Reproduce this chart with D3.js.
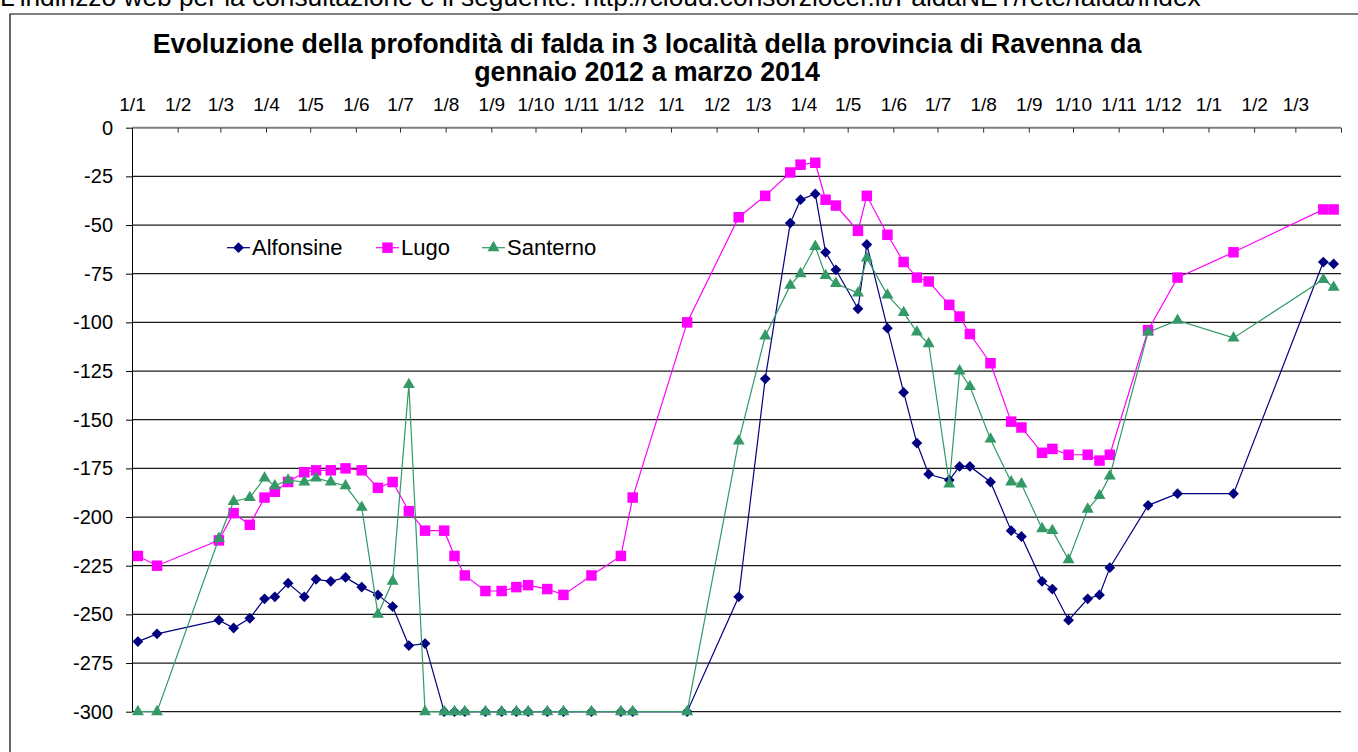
<!DOCTYPE html>
<html lang="it">
<head>
<meta charset="UTF-8">
<title>Evoluzione della profondità di falda</title>
<style>
    body { margin: 0; background: #fff; }
    svg { display: block; font-family: "Liberation Sans", Arial, sans-serif; }
    .grid line { stroke: #1a1a1a; stroke-width: 1.2px; }
    .grid line.zero { stroke: #808080; stroke-width: 2px; }
    .x-axis text { font-size: 19px; fill: #000; }
    .x-axis line { stroke: #333; }
    .y-axis text { font-size: 20px; fill: #000; }
    .y-axis line, .y-axis path { stroke: #000; }
    .title { font-size: 26.8px; font-weight: bold; text-anchor: middle; }
    .legend text { font-size: 22px; }
    .series path.line { fill: none; stroke-width: 1.2px; }
</style>
</head>
<body>
<svg id="chart" width="1358" height="752"></svg>
<script src="https://d3js.org/d3.v7.min.js"></script>
<script>
// date of each reading (shared by the three wells)
const dates = [
    "2012-01-05","2012-01-18","2012-02-29","2012-03-10","2012-03-21","2012-03-31","2012-04-07","2012-04-16",
    "2012-04-27","2012-05-05","2012-05-15","2012-05-25","2012-06-05","2012-06-16","2012-06-26","2012-07-07",
    "2012-07-18","2012-07-31","2012-08-07","2012-08-14","2012-08-28","2012-09-08","2012-09-18","2012-09-26",
    "2012-10-09","2012-10-20","2012-11-08","2012-11-28","2012-12-06","2013-01-12",
    "2013-02-16","2013-03-06","2013-03-23","2013-03-30","2013-04-09","2013-04-16","2013-04-23","2013-05-08",
    "2013-05-14","2013-05-28","2013-06-08","2013-06-17","2013-06-25","2013-07-09","2013-07-16","2013-07-23",
    "2013-08-06","2013-08-20","2013-08-27","2013-09-10","2013-09-17","2013-09-28","2013-10-11","2013-10-19",
    "2013-10-26","2013-11-21","2013-12-11","2014-01-18","2014-03-20","2014-03-27"
];

const alfonsine = [
    -264, -260, -253, -257, -252, -242, -241, -234, -241, -232, -233, -231, -236, -240, -246, -266,
    -265, -300, -300, -300, -300, -300, -300, -300, -300, -300, -300, -300, -300, -300,
    -241, -129, -49, -37, -34, -64, -73, -93, -60, -103, -136, -162, -178, -181, -174, -174,
    -182, -207, -210, -233, -237, -253, -242, -240, -226, -194, -188, -188, -69, -70
];

const lugo = [
    -220, -225, -212, -198, -204, -190, -187, -182, -177, -176, -176, -175, -176, -185, -182, -197,
    -207, -207, -220, -230, -238, -238, -236, -235, -237, -240, -230, -220, -190, -100,
    -46, -35, -23, -19, -18, -37, -40, -53, -35, -55, -69, -77, -79, -91, -97, -106,
    -121, -151, -154, -167, -165, -168, -168, -171, -168, -104, -77, -64, -42, -42
];

const santerno = [
    -300, -300, -211, -192, -190, -180, -184, -181, -182, -180, -182, -184, -195, -250, -233, -132,
    -300, -300, -300, -300, -300, -300, -300, -300, -300, -300, -300, -300, -300, -300,
    -161, -107, -81, -75, -61, -76, -80, -85, -67, -86, -95, -105, -111, -183, -125, -133,
    -160, -182, -183, -206, -207, -222, -196, -189, -179, -105, -99, -108, -78, -82
];

const seriesNames = ["Alfonsine", "Lugo", "Santerno"];
const yTicks = [0, -25, -50, -75, -100, -125, -150, -175, -200, -225, -250, -275, -300];
const xStart = "2012-01-01";
const xEnd = "2014-04-01";

const titleLines = [
    "Evoluzione della profondità di falda in 3 località della provincia di Ravenna da",
    "gennaio 2012 a marzo 2014"
];
const headerText = "L'indirizzo web per la consultazione è il seguente: http://cloud.consorziocer.it/FaldaNET/rete/falda/index";

const parse = d3.utcParse("%Y-%m-%d");
const svg = d3.select("#chart");

const plot = { left: 132, right: 1341, top: 127.7, bottom: 711.7 };

const x = d3.scaleUtc()
    .domain([parse(xStart), parse(xEnd)])
    .range([plot.left, plot.right]);

const y = d3.scaleLinear()
    .domain([-300, 0])
    .range([plot.bottom, plot.top]);

// text of the page above the chart, cut by the window as in the original
svg.append("text")
    .attr("x", 0)
    .attr("y", 6)
    .style("font-size", "26.3px")
    .text(headerText);

// chart frame
svg.append("path")
    .attr("d", "M10,752V14H1358")
    .attr("fill", "none")
    .attr("stroke", "#000")
    .attr("stroke-width", 1.2);

// title
svg.append("text")
    .attr("class", "title")
    .selectAll("tspan")
    .data(titleLines)
    .join("tspan")
    .attr("x", 647)
    .attr("y", (d, i) => 53 + i * 28)
    .text(d => d);

// horizontal gridlines
svg.append("g")
    .attr("class", "grid")
    .selectAll("line")
    .data(yTicks)
    .join("line")
    .attr("class", d => d === 0 ? "zero" : null)
    .attr("x1", plot.left)
    .attr("x2", plot.right)
    .attr("y1", d => y(d))
    .attr("y2", d => y(d));

// month axis on top
const lastTick = parse(xEnd);
const xAxis = d3.axisTop(x)
    .tickValues(d3.utcMonths(parse(xStart), d3.utcDay.offset(lastTick, 1)))
    .tickFormat(d => +d === +lastTick ? "" : "1/" + (d.getUTCMonth() + 1))
    .tickSizeInner(-5)
    .tickSizeOuter(0)
    .tickPadding(17);

svg.append("g")
    .attr("class", "x-axis")
    .attr("transform", "translate(0," + plot.top + ")")
    .call(xAxis)
    .call(g => g.select(".domain").remove());

// depth axis
const yAxis = d3.axisLeft(y)
    .tickValues(yTicks)
    .tickFormat(d => String(d))
    .tickSizeInner(6)
    .tickSizeOuter(0)
    .tickPadding(13);

svg.append("g")
    .attr("class", "y-axis")
    .attr("transform", "translate(" + plot.left + ",0)")
    .call(yAxis);

// series
const colors = ["#000080", "#ff00ff", "#339966"];
const values = [alfonsine, lugo, santerno];

const diamond = d3.symbol().type(d3.symbolSquare).size(58)();
const square = d3.symbol().type(d3.symbolSquare).size(110)();
const triangle = d3.symbol().type(d3.symbolTriangle).size(62)();
const shapes = [
    { d: diamond, rotate: 45 },
    { d: square, rotate: 0 },
    { d: triangle, rotate: 0 }
];

const line = d3.line()
    .x(d => x(d.date))
    .y(d => y(d.value));

seriesNames.forEach((name, i) => {
    const pts = dates.map((s, j) => ({ date: parse(s), value: values[i][j] }));
    const g = svg.append("g").attr("class", "series");

    g.append("path")
        .datum(pts)
        .attr("class", "line")
        .attr("stroke", colors[i])
        .attr("d", line);

    g.selectAll(".marker")
        .data(pts)
        .join("path")
        .attr("class", "marker")
        .attr("d", shapes[i].d)
        .attr("fill", colors[i])
        .attr("transform", d => "translate(" + x(d.date) + "," + y(d.value) + ") rotate(" + shapes[i].rotate + ")");
});

// legend
const legendPos = [227, 376, 482];
const legend = svg.append("g")
    .attr("class", "legend")
    .attr("transform", "translate(0,247.7)");

seriesNames.forEach((name, i) => {
    const item = legend.append("g").attr("transform", "translate(" + legendPos[i] + ",0)");
    item.append("line")
        .attr("x1", 0).attr("x2", 23)
        .attr("stroke", colors[i])
        .attr("stroke-width", 1.2);
    item.append("path")
        .attr("d", shapes[i].d)
        .attr("fill", colors[i])
        .attr("transform", "translate(11.5,0) rotate(" + shapes[i].rotate + ")");
    item.append("text")
        .attr("x", 25)
        .attr("dy", "0.35em")
        .text(name);
});
</script>
</body>
</html>
